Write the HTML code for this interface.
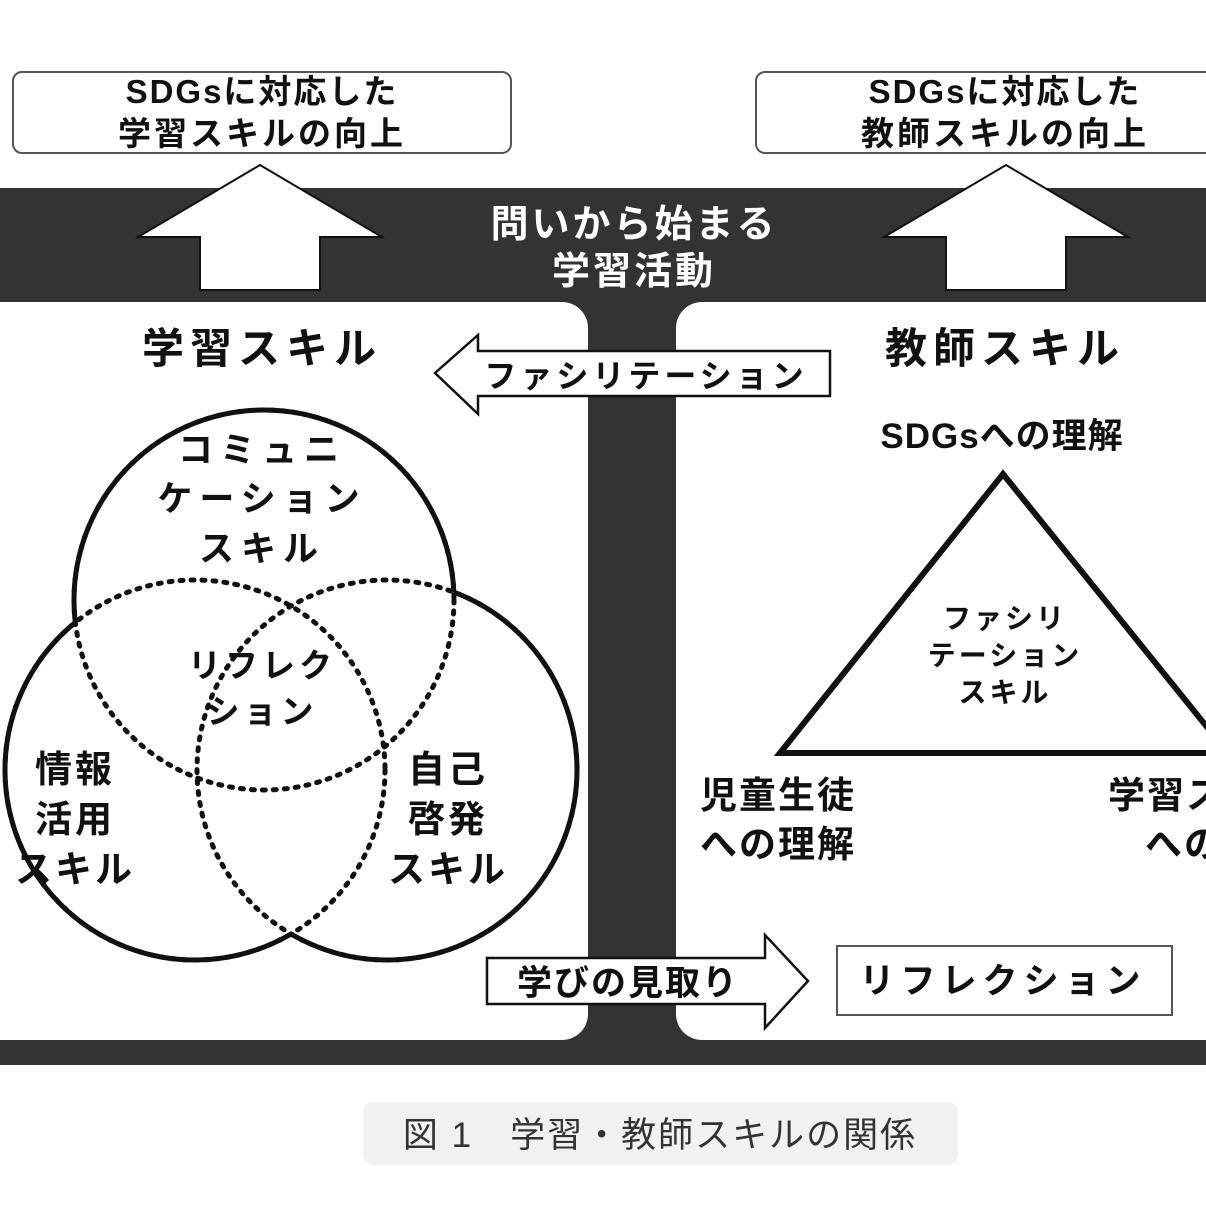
<!DOCTYPE html>
<html><head><meta charset="utf-8"><style>
html,body{margin:0;padding:0;background:#fff}
svg{display:block}
text{font-family:"Liberation Sans","Noto Sans CJK JP",sans-serif;font-weight:bold;fill:#111}
</style></head><body>
<svg width="1206" height="1206" viewBox="0 0 1206 1206" xmlns="http://www.w3.org/2000/svg">
<defs>
<mask id="mA"><rect width="1206" height="1206" fill="#fff"/><circle cx="195" cy="770" r="190" fill="#000"/><circle cx="387" cy="770" r="190" fill="#000"/></mask>
<mask id="mB"><rect width="1206" height="1206" fill="#fff"/><circle cx="264" cy="600" r="190" fill="#000"/><circle cx="387" cy="770" r="190" fill="#000"/></mask>
<mask id="mC"><rect width="1206" height="1206" fill="#fff"/><circle cx="264" cy="600" r="190" fill="#000"/><circle cx="195" cy="770" r="190" fill="#000"/></mask>
</defs>
<rect x="0" y="188" width="1206" height="877" fill="#333"/>
<rect x="-30" y="302" width="618" height="738" rx="26" fill="#fff"/>
<rect x="676" y="302" width="560" height="738" rx="26" fill="#fff"/>
<rect x="13" y="72" width="498" height="81" rx="9" fill="#fff" stroke="#555" stroke-width="2"/>
<rect x="756" y="72" width="470" height="81" rx="9" fill="#fff" stroke="#555" stroke-width="2"/>
<text x="262" y="103" font-size="33" letter-spacing="2" text-anchor="middle">SDGsに対応した</text>
<text x="262" y="145" font-size="33" letter-spacing="3" text-anchor="middle">学習スキルの向上</text>
<text x="1005" y="103" font-size="33" letter-spacing="2" text-anchor="middle">SDGsに対応した</text>
<text x="1005" y="145" font-size="33" letter-spacing="3" text-anchor="middle">教師スキルの向上</text>
<polygon points="260,165 382,237 320,237 320,290 200,290 200,237 138,237" fill="#fff" stroke="#111" stroke-width="2"/>
<polygon points="1006,165 1128,237 1066,237 1066,290 946,290 946,237 884,237" fill="#fff" stroke="#111" stroke-width="2"/>
<text x="634" y="237" font-size="38" letter-spacing="3" text-anchor="middle" style="fill:#fff">問いから始まる</text>
<text x="634" y="284" font-size="38" letter-spacing="3" text-anchor="middle" style="fill:#fff">学習活動</text>
<text x="262" y="363" font-size="42" letter-spacing="6" text-anchor="middle">学習スキル</text>
<text x="1005" y="363" font-size="42" letter-spacing="6" text-anchor="middle">教師スキル</text>
<polygon points="435,373 478,335 478,351 830,351 830,396 478,396 478,414" fill="#fff" stroke="#111" stroke-width="2.5"/>
<text x="646" y="387" font-size="32" letter-spacing="4" text-anchor="middle">ファシリテーション</text>
<g fill="none" stroke="#111" stroke-width="5" stroke-dasharray="3 8" stroke-linecap="round">
<circle cx="264" cy="600" r="190"/><circle cx="195" cy="770" r="190"/><circle cx="387" cy="770" r="190"/>
</g>
<g fill="none" stroke="#111" stroke-width="5">
<circle cx="264" cy="600" r="190" mask="url(#mA)"/>
<circle cx="195" cy="770" r="190" mask="url(#mB)"/>
<circle cx="387" cy="770" r="190" mask="url(#mC)"/>
</g>
<text x="262" y="462" font-size="35" letter-spacing="7" text-anchor="middle">コミュニ</text>
<text x="262" y="511" font-size="35" letter-spacing="7" text-anchor="middle">ケーション</text>
<text x="262" y="561" font-size="35" letter-spacing="7" text-anchor="middle">スキル</text>
<text x="262" y="677" font-size="33" letter-spacing="4" text-anchor="middle">リフレク</text>
<text x="262" y="723" font-size="33" letter-spacing="4" text-anchor="middle">ション</text>
<text x="75" y="782" font-size="37" letter-spacing="3" text-anchor="middle">情報</text>
<text x="75" y="832" font-size="37" letter-spacing="3" text-anchor="middle">活用</text>
<text x="75" y="882" font-size="37" letter-spacing="3" text-anchor="middle">スキル</text>
<text x="448" y="782" font-size="37" letter-spacing="3" text-anchor="middle">自己</text>
<text x="448" y="832" font-size="37" letter-spacing="3" text-anchor="middle">啓発</text>
<text x="448" y="882" font-size="37" letter-spacing="3" text-anchor="middle">スキル</text>
<text x="1002" y="448" font-size="35" letter-spacing="1" text-anchor="middle">SDGsへの理解</text>
<polygon points="1003,474 1228,753 780,753" fill="#fff" stroke="#111" stroke-width="6"/>
<text x="1005" y="628" font-size="28" letter-spacing="3" text-anchor="middle">ファシリ</text>
<text x="1005" y="665" font-size="28" letter-spacing="3" text-anchor="middle">テーション</text>
<text x="1005" y="702" font-size="28" letter-spacing="3" text-anchor="middle">スキル</text>
<text x="778" y="808" font-size="37" letter-spacing="2" text-anchor="middle">児童生徒</text>
<text x="778" y="857" font-size="37" letter-spacing="2" text-anchor="middle">への理解</text>
<text x="1108" y="808" font-size="37" letter-spacing="2">学習スキル</text>
<text x="1145" y="857" font-size="37" letter-spacing="2">への理解</text>
<polygon points="487,958 765,958 765,935 808,981 765,1028 765,1004 487,1004" fill="#fff" stroke="#111" stroke-width="2.5"/>
<text x="628" y="995" font-size="35" letter-spacing="2" text-anchor="middle">学びの見取り</text>
<rect x="837" y="946" width="335" height="69" fill="#fff" stroke="#555" stroke-width="2"/>
<text x="1003" y="993" font-size="35" letter-spacing="6" text-anchor="middle">リフレクション</text>
<rect x="363" y="1102" width="595" height="63" rx="10" fill="#f1f1f1"/>
<text x="660" y="1147" font-size="35" letter-spacing="2" text-anchor="middle" style="font-weight:normal;fill:#333">図 1　学習・教師スキルの関係</text>
</svg>
</body></html>
